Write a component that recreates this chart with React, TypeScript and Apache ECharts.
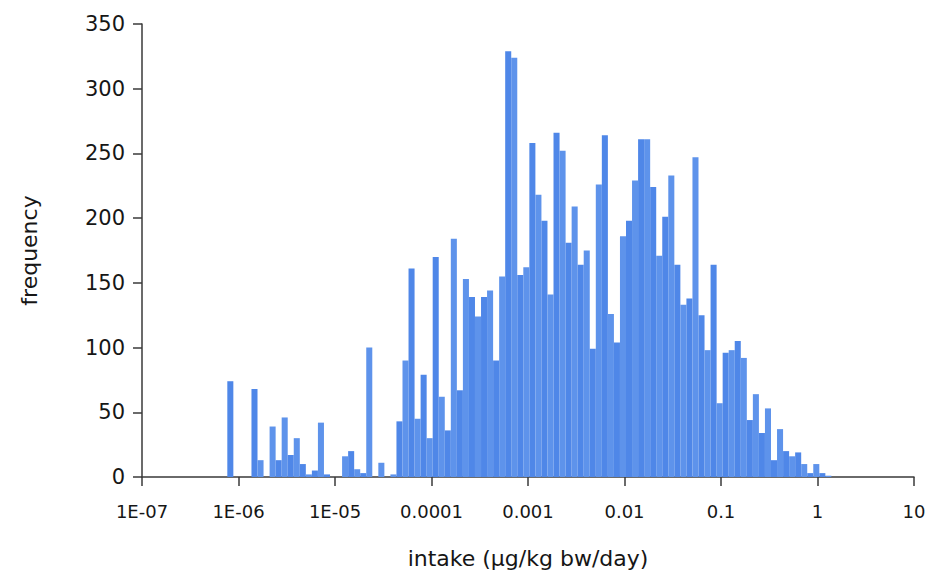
import React, { useEffect, useRef } from "react";
import * as echarts from "echarts";

// Histogram bins: 100 equal bins in log10 space
const binStartLog10 = -6.116;
const binWidthLog10 = 0.0626;

const counts = [
  74, 0, 0, 0, 68, 13, 0, 39, 13, 46,
  17, 30, 10, 2, 5, 42, 2, 0, 0, 16,
  20, 6, 3, 100, 0, 11, 0, 2, 43, 90,
  161, 45, 79, 30, 170, 62, 36, 184, 67, 153,
  139, 124, 139, 144, 90, 155, 329, 324, 156, 162,
  258, 218, 198, 141, 266, 252, 181, 209, 164, 175,
  99, 226, 264, 126, 104, 186, 198, 229, 261, 261,
  224, 171, 201, 233, 164, 133, 138, 247, 125, 98,
  164, 57, 96, 98, 105, 92, 44, 64, 34, 53,
  13, 37, 20, 16, 19, 10, 3, 10, 3, 1,
];

const xTickLabels = ["1E-07", "1E-06", "1E-05", "0.0001", "0.001", "0.01", "0.1", "1", "10"];
const yTicks = [0, 50, 100, 150, 200, 250, 300, 350];

const xName = "intake (µg/kg bw/day)";
const yName = "frequency";

export default function App() {
  const ref = useRef<HTMLDivElement>(null);

  useEffect(() => {
    if (!ref.current) return;
    const chart = echarts.init(ref.current, undefined, { renderer: "svg" });

    const data = counts.map((c, i) => {
      const lo = Math.pow(10, binStartLog10 + i * binWidthLog10);
      const hi = Math.pow(10, binStartLog10 + (i + 1) * binWidthLog10);
      return [lo, hi, c, i];
    });

    const textColor = "#161616";
    const lineColor = "#3a3a3a";

    chart.setOption({
      animation: false,
      backgroundColor: "#ffffff",
      grid: { left: 142, right: 15, top: 24, bottom: 98, containLabel: false },
      xAxis: {
        type: "log",
        logBase: 10,
        min: 1e-7,
        max: 10,
        splitNumber: 8,
        name: xName,
        nameLocation: "middle",
        nameGap: 70,
        nameTextStyle: { fontFamily: "DejaVu Sans", fontSize: 22, color: textColor },
        axisLine: { show: true, lineStyle: { color: lineColor, width: 1.5 } },
        axisTick: { show: true, length: 9, inside: false, lineStyle: { color: lineColor, width: 1.5 } },
        minorTick: { show: false },
        splitLine: { show: false },
        axisLabel: {
          margin: 25,
          fontFamily: "DejaVu Sans",
          fontSize: 18,
          color: textColor,
          formatter: (v: number) => {
            const e = Math.round(Math.log10(v));
            return xTickLabels[e + 7] ?? "";
          },
        },
      },
      yAxis: {
        type: "value",
        min: yTicks[0],
        max: yTicks[yTicks.length - 1],
        interval: 50,
        name: yName,
        nameLocation: "middle",
        nameGap: 102,
        nameTextStyle: { fontFamily: "DejaVu Sans", fontSize: 22, color: textColor },
        axisLine: { show: true, lineStyle: { color: lineColor, width: 1.5 } },
        axisTick: { show: true, length: 9, inside: false, lineStyle: { color: lineColor, width: 1.5 } },
        splitLine: { show: false },
        axisLabel: {
          margin: 17,
          fontFamily: "DejaVu Sans",
          fontSize: 21,
          color: textColor,
        },
      },
      series: [
        {
          type: "custom",
          encode: { x: [0, 1], y: 2 },
          data,
          renderItem: (params: any, api: any) => {
            const p0 = api.coord([api.value(0), 0]);
            const p1 = api.coord([api.value(1), api.value(2)]);
            const idx = api.value(3);
            return {
              type: "rect",
              shape: {
                x: p0[0],
                y: p1[1],
                width: p1[0] - p0[0],
                height: p0[1] - p1[1],
              },
              style: {
                fill: idx % 2 === 0 ? "#4F87E8" : "#5E93EB",
                stroke: null,
              },
            };
          },
        },
      ],
    });

    return () => {
      chart.dispose();
    };
  }, []);

  return (
    <div
      ref={ref}
      style={{ position: "absolute", left: 0, top: 0, width: 929, height: 575 }}
    />
  );
}
